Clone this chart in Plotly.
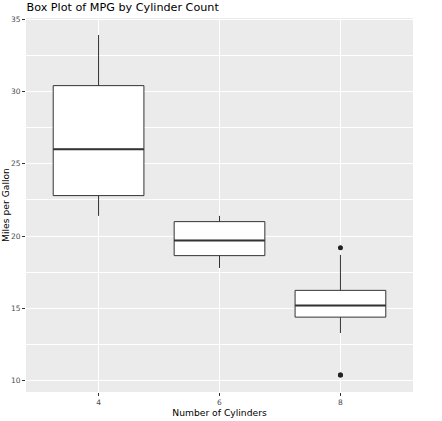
import plotly.graph_objects as go

categories = ["4", "6", "8"]
q1 = [22.8, 18.65, 14.4]
median = [26.0, 19.7, 15.2]
q3 = [30.4, 21.0, 16.25]
lower_whisker = [21.4, 17.8, 13.3]
upper_whisker = [33.9, 21.4, 18.7]
outlier_cat = ["8", "8", "8"]
outlier_mpg = [19.2, 10.4, 10.4]

pos = {c: i for i, c in enumerate(categories)}
xs = [pos[c] for c in categories]
half = 0.375

fig = go.Figure()
fig.add_trace(go.Box(
    x=xs, q1=q1, median=median, q3=q3,
    lowerfence=lower_whisker, upperfence=upper_whisker,
    width=0.75, whiskerwidth=0,
    fillcolor="white", line=dict(color="#333333", width=1),
    boxpoints=False, hoverinfo="skip", showlegend=False,
))
# thicker median lines (ggplot fatten)
mx, my = [], []
for c, m in zip(categories, median):
    mx += [pos[c] - half, pos[c] + half, None]
    my += [m, m, None]
fig.add_trace(go.Scatter(x=mx, y=my, mode="lines",
                         line=dict(color="#333333", width=2),
                         hoverinfo="skip", showlegend=False))
fig.add_trace(go.Scatter(x=[pos[c] for c in outlier_cat], y=outlier_mpg,
                         mode="markers", marker=dict(color="#222222", size=5),
                         hoverinfo="skip", showlegend=False))

fig.update_layout(
    width=442, height=421,
    margin=dict(l=26, r=29, t=18, b=29, autoexpand=False),
    paper_bgcolor="white", plot_bgcolor="#EBEBEB",
    font=dict(family="DejaVu Sans", color="black"),
    title=dict(text="Box Plot of MPG by Cylinder Count", x=26.5/442, xanchor="left",
               y=1 - 7.5/421, yanchor="middle", font=dict(size=11.2, color="black")),
    xaxis=dict(range=[-0.6, 2.6], tickvals=xs, ticktext=categories, automargin=False,
               showgrid=True, gridcolor="white", gridwidth=1.1, zeroline=False,
               ticks="outside", ticklen=3, tickcolor="#333333", tickwidth=1,
               tickfont=dict(size=7.5, color="#4D4D4D"),
               title=dict(text="Number of Cylinders", font=dict(size=9.2), standoff=0)),
    yaxis=dict(range=[9.225, 35.075], tickvals=[10, 15, 20, 25, 30, 35], automargin=False,
               showgrid=True, gridcolor="white", gridwidth=1.1, zeroline=False,
               ticks="outside", ticklen=3, tickcolor="#333333", tickwidth=1,
               tickfont=dict(size=7.5, color="#4D4D4D"),
               minor=dict(tickvals=[12.5, 17.5, 22.5, 27.5, 32.5], showgrid=True,
                          gridcolor="white", gridwidth=0.5, ticks=""),
               title=dict(text="Miles per Gallon", font=dict(size=9.2), standoff=0)),
)
fig.write_html("out.html", config={"displayModeBar": False},
               post_script="document.body.style.margin='0px';document.body.style.overflow='hidden';")
